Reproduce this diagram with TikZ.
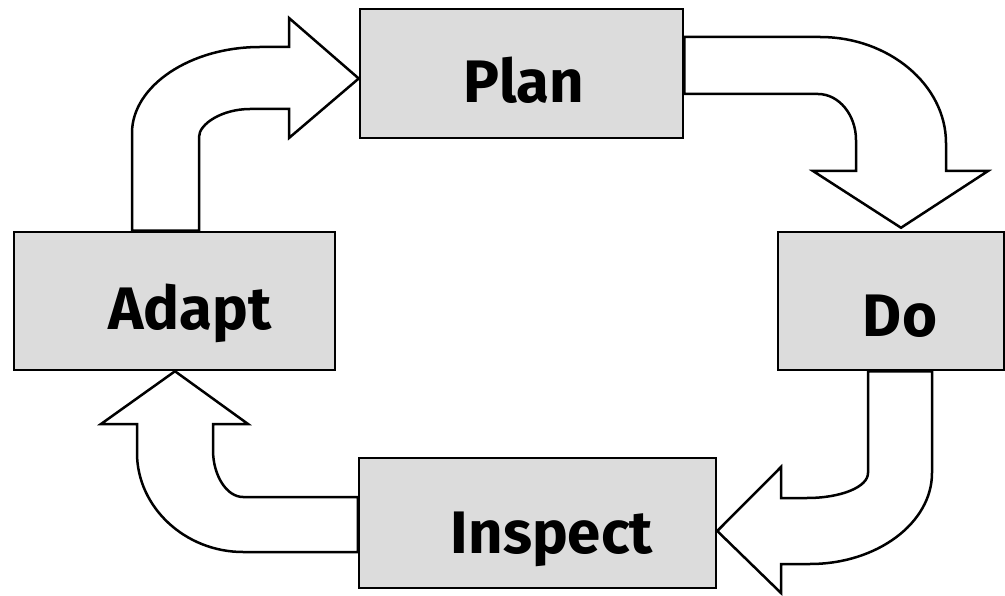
\documentclass[tikz,border=0pt]{standalone}
\usepackage{fontspec}
\setmainfont{Fira Sans}
\usetikzlibrary{calc}

\definecolor{boxfill}{HTML}{DCDCDC}

\begin{document}
\begin{tikzpicture}[x=1pt, y=-1pt,
    stage/.style={draw=black, line width=2.5pt, fill=boxfill, inner sep=0pt},
    word/.style={anchor=base, inner sep=0pt, font=\fontsize{60}{66}\selectfont\bfseries},
    flow/.style={draw=black, line width=2.5pt, fill=white, line join=miter}]

\useasboundingbox (0,0) rectangle (1005,596);

% Stages
\node[stage, minimum width=323pt, minimum height=129pt] (plan) at (521.5,73.5) {};
\node[stage, minimum width=321pt, minimum height=138pt] (adapt) at (174.5,301) {};
\node[stage, minimum width=226pt, minimum height=138pt] (do) at (891,301) {};
\node[stage, minimum width=357pt, minimum height=130pt] (inspect) at (537.5,523) {};

\node[word] (plan-t) at ($(plan.center)+(2.5,29.5)$) {Plan};
\node[word] (adapt-t) at ($(adapt.center)+(15.5,29)$) {Adapt};
\node[word] (do-t) at ($(do.center)+(9,36)$) {Do};
\node[word] (inspect-t) at ($(inspect.center)+(14.5,30)$) {Inspect};

% Adapt -> Plan
\draw[flow] (132,0 |- adapt.north) -- (132,133)
    .. controls (132,86) and (190,47) .. (260,47) -- (289,47) -- (289,18)
    -- ($(plan.west)+(0,5)$) -- (289,138) -- (289,109) -- (250,109)
    .. controls (222,109) and (199,124) .. (199,137) -- (199,0 |- adapt.north) -- cycle;

% Plan -> Do
\draw[flow] (plan.east |- 0,37) -- (820,37)
    .. controls (889,37) and (946,85) .. (946,143) -- (946,171) -- (988,171)
    -- ($(do.north)+(10,-3)$) -- (813,171) -- (856,171) -- (856,140)
    .. controls (856,115) and (839,94) .. (818,94) -- (plan.east |- 0,94) -- cycle;

% Do -> Inspect
\draw[flow] (932,0 |- do.south) -- (932,473)
    .. controls (932,523) and (877,564) .. (810,564) -- (781,564) -- (781,593)
    -- ($(inspect.east)+(0,8)$) -- (781,467) -- (781,498) -- (807,498)
    .. controls (841,498) and (868,487) .. (868,473) -- (868,0 |- do.south) -- cycle;

% Inspect -> Adapt
\draw[flow] (inspect.west |- 0,552) -- (243,552)
    .. controls (185,552) and (137,507) .. (137,453) -- (137,424) -- (101,424)
    -- ($(adapt.south)+(0.5,0)$) -- (248,424) -- (213,424) -- (213,450)
    .. controls (213,476) and (227,497) .. (243,497) -- (inspect.west |- 0,497) -- cycle;

\end{tikzpicture}
\end{document}
